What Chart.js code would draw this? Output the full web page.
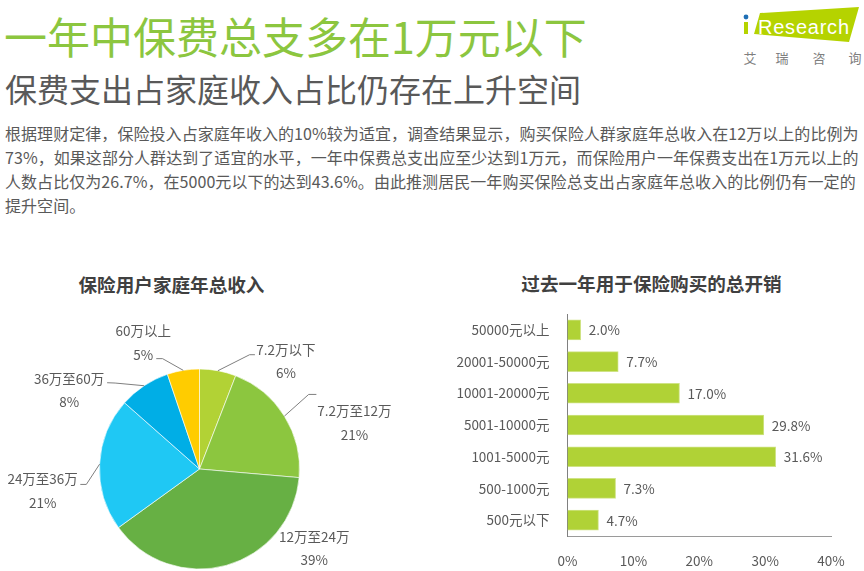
<!DOCTYPE html>
<html lang="zh">
<head>
<meta charset="utf-8">
<title>保费总支</title>
<script src="https://cdn.jsdelivr.net/npm/chart.js@4"></script>
<style>
    html, body { margin: 0; padding: 0; background: #fff; width: 864px; height: 571px; overflow: hidden; }
    body { position: relative; font-family: "Noto Sans CJK SC", "Noto Sans", sans-serif; color: #595959; }
    .t { position: absolute; white-space: nowrap; }
    #title { left: 4px; top: 5px; font-size: 43px; line-height: 60px; color: #8cc63f; font-weight: 400; }
    #subtitle { left: 5px; top: 63px; font-size: 32px; line-height: 50px; color: #595959; font-weight: 400; }
    .body-line { left: 5px; font-size: 16px; line-height: 24px; letter-spacing: 0.06px; }
    .chart-title { font-size: 18.6px; line-height: 26px; font-weight: 700; color: #404040; text-align: center; }
    canvas { position: absolute; }
    #logo { position: absolute; left: 740px; top: 0; }
</style>
</head>
<body>
<div class="t" id="title">一年中保费总支多在1万元以下</div>
<div class="t" id="subtitle">保费支出占家庭收入占比仍存在上升空间</div>
<div class="t body-line" style="top:121px">根据理财定律，保险投入占家庭年收入的10%较为适宜，调查结果显示，购买保险人群家庭年总收入在12万以上的比例为</div>
<div class="t body-line" style="top:145px">73%，如果这部分人群达到了适宜的水平，一年中保费总支出应至少达到1万元，而保险用户一年保费支出在1万元以上的</div>
<div class="t body-line" style="top:169px">人数占比仅为26.7%，在5000元以下的达到43.6%。由此推测居民一年购买保险总支出占家庭年总收入的比例仍有一定的</div>
<div class="t body-line" style="top:193px">提升空间。</div>
<div class="t chart-title" style="left:0;width:343px;top:271px">保险用户家庭年总收入</div>
<div class="t chart-title" style="left:432px;width:439px;top:270px">过去一年用于保险购买的总开销</div>

<svg id="logo" width="124" height="70" viewBox="0 0 124 70">
    <polygon points="20,13 119,7 109,42 14,34" fill="#b5d300"/>
    <circle cx="6" cy="17" r="2.4" fill="#1f6fb5"/>
    <rect x="4" y="22" width="4" height="12" fill="#b5d300"/>
    <text x="18" y="34" font-family="Liberation Sans, sans-serif" font-size="20" fill="#fff" textLength="91">Research</text>
    <text x="10" y="63" font-size="13" fill="#7f7f7f" text-anchor="middle">艾</text>
    <text x="42" y="63" font-size="13" fill="#7f7f7f" text-anchor="middle">瑞</text>
    <text x="79" y="63" font-size="13" fill="#7f7f7f" text-anchor="middle">咨</text>
    <text x="115" y="63" font-size="13" fill="#7f7f7f" text-anchor="middle">询</text>
</svg>

<canvas id="chart-income" style="left:0;top:260px;width:432px;height:311px"></canvas>
<canvas id="chart-spend" style="left:432px;top:260px;width:432px;height:311px"></canvas>

<script>
// ── Data ─────────────────────────────────────────────────────────────────────
var incomeLabels = ['7.2万以下', '7.2万至12万', '12万至24万', '24万至36万', '36万至60万', '60万以上'];
var incomeValues = [5.9, 20.5, 38.7, 21.5, 8.3, 5.2];   // slice sizes as measured
var incomeShown  = ['6%', '21%', '39%', '21%', '8%', '5%'];
var incomeColors = ['#b2d235', '#8cc63f', '#67b044', '#1fc8f4', '#00aee6', '#ffcc00'];

var spendLabels = ['50000元以上', '20001-50000元', '10001-20000元', '5001-10000元', '1001-5000元', '500-1000元', '500元以下'];
var spendValues = [2.0, 7.7, 17.0, 29.8, 31.6, 7.3, 4.7];
var spendTicks  = [0, 10, 20, 30, 40];

var FONT = '"Noto Sans CJK SC", "Noto Sans", sans-serif';
var TEXT = '#595959';

// Offsets from each slice's outer mid point: elbow, line end, label centre
var pieCallouts = [
    { elbow: [31.7, -16],   end: [37, -16],     text: [68, -21] },
    { elbow: [24.3, -21.7], end: [32, -21.7],   text: [70, -5] },
    { text: [88, -29] },
    { elbow: [-13.3, 20.3], end: [-19.3, 20.3], text: [-57, 15] },
    { elbow: [-29, -2.7],   end: [-37, -3],     text: [-75, -7] },
    { elbow: [-20.7, -11.7], end: [-27, -11.7], text: [-40, -39] }
];

// ── Pie: slice labels with leader lines ──────────────────────────────────────
var calloutPlugin = {
    id: 'callouts',
    afterDatasetsDraw: function (chart) {
        var ctx = chart.ctx;
        ctx.save();
        ctx.font         = '13.5px ' + FONT;
        ctx.fillStyle    = TEXT;
        ctx.strokeStyle  = '#7f7f7f';
        ctx.lineWidth    = 1;
        ctx.textAlign    = 'center';
        ctx.textBaseline = 'middle';
        chart.getDatasetMeta(0).data.forEach(function (arc, i) {
            var mid = (arc.startAngle + arc.endAngle) / 2;
            var x = arc.x + Math.cos(mid) * arc.outerRadius;
            var y = arc.y + Math.sin(mid) * arc.outerRadius;
            var c = pieCallouts[i];
            if (c.elbow) {
                ctx.beginPath();
                ctx.moveTo(x, y);
                ctx.lineTo(x + c.elbow[0], y + c.elbow[1]);
                ctx.lineTo(x + c.end[0], y + c.end[1]);
                ctx.stroke();
            }
            ctx.fillText(incomeLabels[i], x + c.text[0], y + c.text[1]);
            ctx.fillText(incomeShown[i], x + c.text[0], y + c.text[1] + 23.5);
        });
        ctx.restore();
    }
};

new Chart(document.getElementById('chart-income'), {
    type: 'pie',
    data: {
        labels: incomeLabels,
        datasets: [{
            data: incomeValues,
            backgroundColor: incomeColors,
            borderColor: 'rgba(255, 255, 255, 0.6)',
            borderWidth: 1
        }]
    },
    options: {
        responsive: false,
        animation: false,
        devicePixelRatio: 1,
        layout: { padding: { left: 99, right: 132, top: 108.5, bottom: 1.5 } },
        plugins: { legend: { display: false }, tooltip: { enabled: false } }
    },
    plugins: [calloutPlugin]
});

// ── Bars: value labels right of each bar ─────────────────────────────────────
var barLabelsPlugin = {
    id: 'barLabels',
    afterDatasetsDraw: function (chart) {
        var ctx = chart.ctx;
        ctx.save();
        ctx.font         = '13.5px ' + FONT;
        ctx.fillStyle    = TEXT;
        ctx.textAlign    = 'left';
        ctx.textBaseline = 'middle';
        chart.getDatasetMeta(0).data.forEach(function (bar, i) {
            ctx.fillText(spendValues[i].toFixed(1) + '%', bar.x + 8, bar.y + 0.5);
        });
        ctx.restore();
    }
};

new Chart(document.getElementById('chart-spend'), {
    type: 'bar',
    data: {
        labels: spendLabels,
        datasets: [{
            data: spendValues,
            backgroundColor: '#b0d236',
            borderColor: '#cfe385',
            borderWidth: 1,
            barThickness: 20
        }]
    },
    options: {
        indexAxis: 'y',
        responsive: false,
        animation: false,
        devicePixelRatio: 1,
        layout: { padding: { left: 0, right: 33, top: 54, bottom: 0 } },
        plugins: { legend: { display: false }, tooltip: { enabled: false } },
        scales: {
            x: {
                min: 0,
                max: 40,
                afterBuildTicks: function (scale) {
                    scale.ticks = spendTicks.map(function (v) { return { value: v }; });
                },
                afterFit: function (scale) { scale.height = 35; },
                grid: { display: false },
                border: { color: '#9a9a9a', width: 1 },
                ticks: {
                    padding: 9,
                    maxRotation: 0,
                    color: TEXT,
                    font: { family: FONT, size: 13.5 },
                    callback: function (v) { return v + '%'; }
                }
            },
            y: {
                afterFit: function (scale) { scale.width = 135.5; },
                grid: { display: false },
                border: { color: '#808080', width: 1 },
                ticks: {
                    padding: 10,
                    color: TEXT,
                    font: { family: FONT, size: 13.5 }
                }
            }
        }
    },
    plugins: [barLabelsPlugin]
});
</script>
</body>
</html>
